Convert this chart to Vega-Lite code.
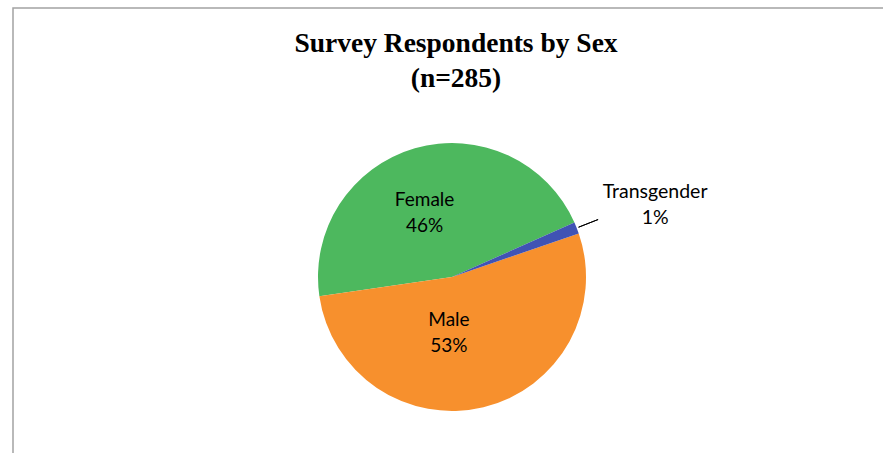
{
  "$schema": "https://vega.github.io/schema/vega-lite/v6.json",
  "width": 878,
  "height": 538,
  "autosize": {"type": "none"},
  "padding": {"left": 13, "top": 8, "right": 0, "bottom": 0},
  "background": "white",
  "view": {"stroke": "#a3a3a3", "strokeWidth": 1.5},
  "config": {"view": {"stroke": "#a3a3a3", "strokeWidth": 1.5}},
  "title": {
    "text": ["Survey Respondents by Sex", "(n=285)"],
    "font": "Liberation Serif",
    "fontSize": 27.5,
    "fontWeight": "bold",
    "color": "#000000",
    "anchor": "middle",
    "frame": "group",
    "baseline": "alphabetic",
    "offset": -45,
    "dy": 61,
    "lineHeight": 35,
    "dx": 4
  },
  "data": {
    "values": [
      {"sex": "Female", "count": 130, "label": "Female\n46%"},
      {"sex": "Male", "count": 151, "label": "Male\n53%"},
      {"sex": "Transgender", "count": 4, "label": "Transgender\n1%"}
    ]
  },
  "encoding": {
    "theta": {"field": "count", "type": "quantitative", "stack": true, "scale": {"domain": [0, 285], "range": [1.1519, 7.4351]}},
    "order": {"field": "sex", "sort": "descending"}
  },
  "layer": [
    {
      "mark": {"type": "arc", "outerRadius": 134},
      "encoding": {
        "color": {
          "field": "sex", "type": "nominal", "legend": null,
          "scale": {"domain": ["Female", "Male", "Transgender"], "range": ["#4db85e", "#f7902d", "#4053b4"]}
        }
      }
    },
    {
      "mark": {"type": "arc", "innerRadius": 136, "outerRadius": 157, "padAngle": 0.2, "fillOpacity": 0, "stroke": "#000000", "strokeWidth": 1},
      "encoding": {
        "strokeOpacity": {"condition": {"test": "datum.sex === 'Transgender'", "value": 1}, "value": 0}
      }
    },
    {
      "mark": {"type": "text", "radius": 70, "dx": -8, "dy": -10, "font": "Lato", "fontSize": 19, "lineHeight": 26, "lineBreak": "\n", "baseline": "middle", "align": "center", "color": "#000000"},
      "encoding": {"text": {"condition": {"test": "datum.sex === 'Female'", "field": "label"}, "value": ""}}
    },
    {
      "mark": {"type": "text", "radius": 70, "dx": -19.5, "dy": -25, "font": "Lato", "fontSize": 19, "lineHeight": 26, "lineBreak": "\n", "baseline": "middle", "align": "center", "color": "#000000"},
      "encoding": {"text": {"condition": {"test": "datum.sex === 'Male'", "field": "label"}, "value": ""}}
    },
    {
      "mark": {"type": "text", "radius": 200, "dx": 17, "dy": -12, "font": "Lato", "fontSize": 19.5, "lineHeight": 26, "lineBreak": "\n", "baseline": "middle", "align": "center", "color": "#000000"},
      "encoding": {"text": {"condition": {"test": "datum.sex === 'Transgender'", "field": "label"}, "value": ""}}
    }
  ]
}
